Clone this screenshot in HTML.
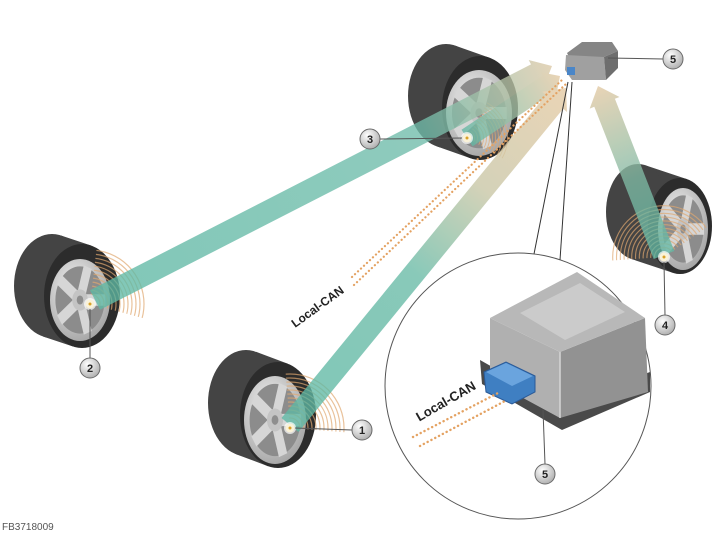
<!DOCTYPE html>
<html><head><meta charset="utf-8"><style>
html,body{margin:0;padding:0;background:#fff;}
svg{display:block;}
text{font-family:"Liberation Sans",sans-serif;}
</style></head><body>
<svg width="724" height="534" viewBox="0 0 724 534" xmlns="http://www.w3.org/2000/svg">
<defs>
<radialGradient id="rimg" cx="40%" cy="35%" r="70%">
<stop offset="0" stop-color="#f2f2f2"/><stop offset="1" stop-color="#a4a4a4"/></radialGradient>
<radialGradient id="lbl" cx="38%" cy="32%" r="70%">
<stop offset="0" stop-color="#ffffff"/><stop offset="1" stop-color="#b0b0b0"/></radialGradient>
<linearGradient id="tread" x1="0" y1="0" x2="0" y2="1">
<stop offset="0" stop-color="#555"/><stop offset="1" stop-color="#333"/></linearGradient>
<linearGradient id="g2" gradientUnits="userSpaceOnUse" x1="95" y1="300" x2="552" y2="66">
<stop offset="0" stop-color="#5db8a4"/><stop offset="0.72" stop-color="#70bcaa"/><stop offset="1" stop-color="#dcc8a6"/></linearGradient>
<linearGradient id="g3" gradientUnits="userSpaceOnUse" x1="467" y1="138" x2="560" y2="76">
<stop offset="0" stop-color="#62b8a5"/><stop offset="0.5" stop-color="#a6c2a6"/><stop offset="1" stop-color="#e3c8a2"/></linearGradient>
<linearGradient id="g1" gradientUnits="userSpaceOnUse" x1="290" y1="425" x2="566" y2="88">
<stop offset="0" stop-color="#5db8a4"/><stop offset="0.45" stop-color="#68baa6"/><stop offset="0.7" stop-color="#c8c6a4"/><stop offset="1" stop-color="#e4c8a2"/></linearGradient>
<linearGradient id="g4" gradientUnits="userSpaceOnUse" x1="664" y1="255" x2="598" y2="86">
<stop offset="0" stop-color="#62b8a5"/><stop offset="0.45" stop-color="#80baa4"/><stop offset="1" stop-color="#e2c8a2"/></linearGradient>
<clipPath id="w1c"><polygon points="290,428 283,340 380,340 380,435"/></clipPath>
<clipPath id="w2c"><polygon points="90,304 100,220 180,220 180,328"/></clipPath>
<clipPath id="w3c"><polygon points="467,138 500,80 540,80 540,180"/></clipPath>
<clipPath id="w4c"><polygon points="664,257 590,262 590,180 730,180 730,211"/></clipPath>
<g id="rim">
<circle r="100" fill="url(#rimg)"/>
<circle r="82" fill="#8c8c8c"/>
<g stroke="#d6d6d6" stroke-width="28">
<line x1="0" y1="0" x2="84" y2="0"/><line x1="0" y1="0" x2="26" y2="80"/><line x1="0" y1="0" x2="-68" y2="49"/><line x1="0" y1="0" x2="-68" y2="-49"/><line x1="0" y1="0" x2="26" y2="-80"/>
</g>
<circle r="26" fill="#c4c4c4"/><circle r="11" fill="#8e8e8e"/>
</g>
<g id="arcs" fill="none" stroke="#e0a870" stroke-width="1.2">
<circle r="10"/><circle r="14"/><circle r="18"/><circle r="22"/><circle r="26"/><circle r="30"/><circle r="34"/><circle r="38"/><circle r="42"/><circle r="46"/><circle r="50"/><circle r="54"/>
</g>
</defs>

<!-- Wheel 2 -->
<polygon points="91,245.5 61,235.5 43,336.5 73,346.5" fill="#444"/>
<ellipse cx="52" cy="286" rx="38" ry="52" fill="#444"/>
<ellipse cx="82" cy="296" rx="38" ry="52" fill="#2c2c2c"/>
<use href="#rim" transform="translate(80,300) scale(0.30,0.41)"/>

<!-- Wheel 1 -->
<polygon points="287.9,363.8 255.9,351.8 236.1,454.2 268.1,466.2" fill="#444"/>
<ellipse cx="246" cy="403" rx="38" ry="53" fill="#444"/>
<ellipse cx="278" cy="415" rx="38" ry="53" fill="#2c2c2c"/>
<use href="#rim" transform="translate(275,420) scale(0.31,0.44)"/>

<!-- Wheel 3 -->
<polygon points="489.5,57.7 455.5,45.7 436.5,146.3 470.5,158.3" fill="#444"/>
<ellipse cx="446" cy="96" rx="38" ry="52" fill="#444"/>
<ellipse cx="480" cy="108" rx="38" ry="52" fill="#2c2c2c"/>
<use href="#rim" transform="translate(479,113) scale(0.33,0.43)"/>

<!-- Wheel 4 -->
<polygon points="686.9,179.1 644.9,165.1 631.1,258.9 673.1,272.9" fill="#444"/>
<ellipse cx="638" cy="212" rx="32" ry="48" fill="#444"/>
<ellipse cx="680" cy="226" rx="32" ry="48" fill="#2c2c2c"/>
<use href="#rim" transform="translate(683,229) scale(0.25,0.41)"/>

<!-- sound arcs -->
<g opacity="0.7">
<g clip-path="url(#w1c)"><use href="#arcs" transform="translate(290,428)"/></g>
<g clip-path="url(#w2c)"><use href="#arcs" transform="translate(90,304)"/></g>
<g clip-path="url(#w3c)"><use href="#arcs" transform="translate(467,138) scale(0.75)"/></g>
<g clip-path="url(#w4c)"><use href="#arcs" transform="translate(664,257) scale(0.95)"/></g>
</g>

<!-- Beams -->
<g opacity="0.78">
<polygon points="90,290.2 531,64.4 528.7,60 552,66 543.3,88.2 541,84 100,309.8" fill="url(#g2)"/>
<polygon points="461.5,129.7 542.9,75.5 540.6,72.2 560,76 556.2,95.5 553.9,92.1 472.6,146.3" fill="url(#g3)"/>
<polygon points="281.5,418 546.1,94.9 542.2,91.8 566,88 567,112 563.1,108.9 298.5,432" fill="url(#g1)"/>
<polygon points="653.7,259 594.3,106.8 589.7,108.6 598,86 619.5,97 614.9,98.8 674.3,251" fill="url(#g4)"/>
</g>

<!-- dotted Local-CAN lines outside -->
<g stroke="#e4a262" stroke-width="2.2" stroke-dasharray="0.1 4" stroke-linecap="round" fill="none">
<line x1="352" y1="277" x2="562" y2="80"/>
<line x1="354" y1="285" x2="566" y2="84"/>
</g>

<!-- small module -->
<polygon points="567,53 582,42 612,42 618,51 604,57 569,57" fill="#858585"/>
<polygon points="566,55 604,57 606,80 572,80 565,70" fill="#a0a0a0"/>
<polygon points="604,57 618,51 618,68 606,80" fill="#6e6e6e"/>
<rect x="567" y="67" width="8" height="8" fill="#4a86c8"/>

<!-- pointer lines -->
<line x1="568" y1="82" x2="534" y2="254" stroke="#333" stroke-width="1"/>
<line x1="572" y1="82" x2="560" y2="260" stroke="#333" stroke-width="1"/>

<!-- zoom circle -->
<circle cx="518" cy="386" r="133" fill="#fff" stroke="#555" stroke-width="1"/>

<!-- big module -->
<polygon points="480,360 560,405 650,372 650,392 562,430 482,384" fill="#4a4a4a"/>
<polygon points="490,318 560,352 560,418 490,380" fill="#b0b0b0"/>
<polygon points="560,352 645,318 648,392 560,418" fill="#929292"/>
<polygon points="490,318 577,272 645,318 560,352" fill="#b8b8b8"/>
<polygon points="520,313 580,283 625,312 565,340" fill="#cbcbcb"/>
<line x1="560" y1="352" x2="560" y2="418" stroke="#d6d6d6" stroke-width="1.5"/>
<polygon points="484,372 506,362 535,376 535,392 512,404 486,392" fill="#3f7fc2" stroke="#2a5a98" stroke-width="1"/>
<polygon points="486,372 506,363 533,376 512,386" fill="#6aa4de"/>

<!-- dotted lines inside circle -->
<g stroke="#e4a262" stroke-width="2.4" stroke-dasharray="0.1 4.2" stroke-linecap="round" fill="none">
<line x1="413" y1="437" x2="500" y2="392"/>
<line x1="420" y1="446" x2="505" y2="401"/>
</g>
<text x="448" y="405" font-size="13" font-weight="bold" fill="#222" text-anchor="middle" transform="rotate(-30 448 405)">Local-CAN</text>
<text x="320" y="310" font-size="12" font-weight="bold" fill="#222" text-anchor="middle" transform="rotate(-36 320 310)">Local-CAN</text>

<!-- sensors -->
<g>
<circle cx="290" cy="428" r="6" fill="#fff" opacity="0.7"/><circle cx="290" cy="428" r="4.5" fill="#faf2d8"/><circle cx="290" cy="428" r="1.5" fill="#d8a22a"/>
<circle cx="90" cy="304" r="6" fill="#fff" opacity="0.7"/><circle cx="90" cy="304" r="4.5" fill="#faf2d8"/><circle cx="90" cy="304" r="1.5" fill="#d8a22a"/>
<circle cx="467" cy="138" r="6" fill="#fff" opacity="0.7"/><circle cx="467" cy="138" r="4.5" fill="#faf2d8"/><circle cx="467" cy="138" r="1.5" fill="#d8a22a"/>
<circle cx="664" cy="257" r="6" fill="#fff" opacity="0.7"/><circle cx="664" cy="257" r="4.5" fill="#faf2d8"/><circle cx="664" cy="257" r="1.5" fill="#d8a22a"/>
</g>

<!-- leader lines -->
<g stroke="#555" stroke-width="1">
<line x1="295" y1="428" x2="352" y2="430"/>
<line x1="90" y1="309" x2="90" y2="358"/>
<line x1="380" y1="139" x2="462" y2="138"/>
<line x1="664" y1="262" x2="665" y2="315"/>
<line x1="608" y1="58" x2="663" y2="59"/>
<line x1="543" y1="410" x2="545" y2="464"/>
</g>

<!-- labels -->
<g stroke="#6a6a6a" stroke-width="1" fill="url(#lbl)">
<circle cx="362" cy="430" r="10"/>
<circle cx="90" cy="368" r="10"/>
<circle cx="370" cy="139" r="10"/>
<circle cx="665" cy="325" r="10"/>
<circle cx="673" cy="59" r="10"/>
<circle cx="545" cy="474" r="10"/>
</g>
<g font-size="11" font-weight="bold" fill="#222" text-anchor="middle">
<text x="362" y="434">1</text>
<text x="90" y="372">2</text>
<text x="370" y="143">3</text>
<text x="665" y="329">4</text>
<text x="673" y="63">5</text>
<text x="545" y="478">5</text>
</g>

<text x="2" y="530" font-size="10" fill="#555">FB3718009</text>
</svg>
</body></html>
